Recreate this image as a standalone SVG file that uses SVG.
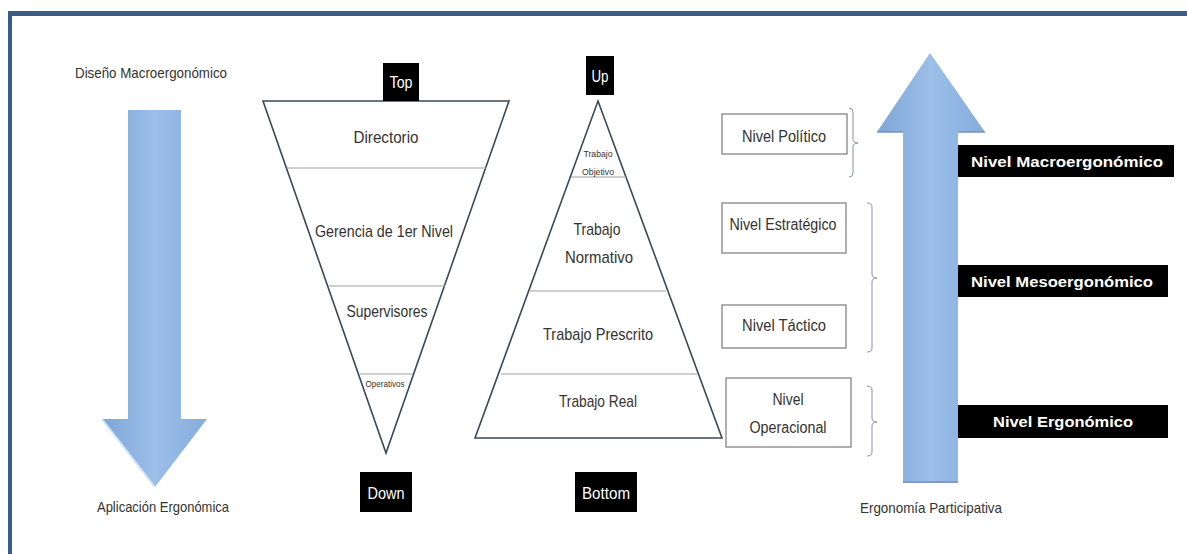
<svg xmlns="http://www.w3.org/2000/svg" width="1187" height="554" viewBox="0 0 1187 554">
<defs>
<linearGradient id="gv" x1="0" y1="0" x2="1" y2="0">
<stop offset="0" stop-color="#7EA5D7"/>
<stop offset="0.5" stop-color="#9CBFE9"/>
<stop offset="1" stop-color="#86ACDD"/>
</linearGradient>
<style>
.t{font-family:"Liberation Sans",Arial,sans-serif;fill:#333;text-anchor:middle}
.s{font-family:"Liberation Sans",Arial,sans-serif;fill:#333}
.w{font-family:"Liberation Sans",Arial,sans-serif;fill:#fff;text-anchor:middle}
.wb{font-family:"Liberation Sans",Arial,sans-serif;fill:#fff;font-weight:bold}
.tri{fill:#fff;stroke:#3B4858;stroke-width:1.6}
.div{stroke:#A0A0A0;stroke-width:1.2}
.box{fill:#fff;stroke:#7A7A7A;stroke-width:1.2}
.br{fill:none;stroke:#8A93A0;stroke-width:1}
.arr{fill:url(#gv)}
</style>
</defs>
<rect width="1187" height="554" fill="#fff"/>
<g id="frame">
<rect x="8" y="11" width="1179" height="5" fill="#3C5C87"/>
<rect x="8" y="11" width="4" height="543" fill="#3C5C87"/>
</g>
<g id="left-arrow">
<path class="arr" d="M128,110 H181 V419 H207 L155,487 L102,419 H128 Z"/>
<path d="M102,419 L155,487" stroke="#C9E2F7" stroke-width="2"/>
<text class="s" x="75" y="78" font-size="15" textLength="152" lengthAdjust="spacingAndGlyphs">Diseño Macroergonómico</text>
<text class="s" x="97" y="512" font-size="15" textLength="132" lengthAdjust="spacingAndGlyphs">Aplicación Ergonómica</text>
</g>
<g id="inverted-pyramid">
<polygon class="tri" points="263,101 509,101 386,453"/>
<line class="div" x1="287" y1="168" x2="486" y2="168"/>
<line class="div" x1="328" y1="286" x2="445" y2="286"/>
<line class="div" x1="360" y1="374" x2="413" y2="374"/>
<text class="t" x="386" y="143" font-size="17" textLength="65" lengthAdjust="spacingAndGlyphs">Directorio</text>
<text class="t" x="384" y="237" font-size="17" textLength="138" lengthAdjust="spacingAndGlyphs">Gerencia de 1er Nivel</text>
<text class="t" x="387" y="317" font-size="17" textLength="81" lengthAdjust="spacingAndGlyphs">Supervisores</text>
<text class="t" x="385" y="387" font-size="9" textLength="39" lengthAdjust="spacingAndGlyphs">Operativos</text>
</g>
<g id="top-label">
<rect x="383" y="63" width="36" height="38" fill="#000"/>
<text class="w" x="401" y="88" font-size="16" textLength="23" lengthAdjust="spacingAndGlyphs">Top</text>
</g>
<g id="down-label">
<rect x="360" y="472" width="52" height="40" fill="#000"/>
<text class="w" x="386" y="499" font-size="16" textLength="37" lengthAdjust="spacingAndGlyphs">Down</text>
</g>
<g id="pyramid">
<polygon class="tri" points="598,101 722,438 475,438"/>
<line class="div" x1="571" y1="177" x2="626" y2="177"/>
<line class="div" x1="530" y1="291" x2="666" y2="291"/>
<line class="div" x1="501" y1="374" x2="697" y2="374"/>
<text class="t" x="598" y="157" font-size="9" textLength="29" lengthAdjust="spacingAndGlyphs">Trabajo</text>
<text class="t" x="598" y="175" font-size="9" textLength="32" lengthAdjust="spacingAndGlyphs">Objetivo</text>
<text class="t" x="597" y="235" font-size="17" textLength="47" lengthAdjust="spacingAndGlyphs">Trabajo</text>
<text class="t" x="599" y="263" font-size="17" textLength="68" lengthAdjust="spacingAndGlyphs">Normativo</text>
<text class="t" x="598" y="340" font-size="17" textLength="110" lengthAdjust="spacingAndGlyphs">Trabajo Prescrito</text>
<text class="t" x="598" y="407" font-size="17" textLength="78" lengthAdjust="spacingAndGlyphs">Trabajo Real</text>
</g>
<g id="up-label">
<rect x="586" y="56" width="28" height="39" fill="#000"/>
<text class="w" x="600" y="82" font-size="16" textLength="17" lengthAdjust="spacingAndGlyphs">Up</text>
</g>
<g id="bottom-label">
<rect x="575" y="472" width="62" height="40" fill="#000"/>
<text class="w" x="606" y="499" font-size="16" textLength="48" lengthAdjust="spacingAndGlyphs">Bottom</text>
</g>
<g id="nivel-politico">
<rect class="box" x="722" y="114" width="125" height="40"/>
<text class="t" x="784" y="142" font-size="16" textLength="84" lengthAdjust="spacingAndGlyphs">Nivel Político</text>
</g>
<g id="nivel-estrategico">
<rect class="box" x="722" y="203" width="124" height="50"/>
<text class="t" x="783" y="230" font-size="16" textLength="107" lengthAdjust="spacingAndGlyphs">Nivel Estratégico</text>
</g>
<g id="nivel-tactico">
<rect class="box" x="722" y="305" width="124" height="43"/>
<text class="t" x="784" y="331" font-size="16" textLength="84" lengthAdjust="spacingAndGlyphs">Nivel Táctico</text>
</g>
<g id="nivel-operacional">
<rect class="box" x="726" y="378" width="125" height="69"/>
<text class="t" x="788" y="405" font-size="16" textLength="31" lengthAdjust="spacingAndGlyphs">Nivel</text>
<text class="t" x="788" y="433" font-size="16" textLength="77" lengthAdjust="spacingAndGlyphs">Operacional</text>
</g>
<g id="connectors">
<path class="br" d="M849,108 Q853,108 853,112 V139 Q853,143 858,143 Q853,143 853,147 V173 Q853,177 849,177"/>
<path class="br" d="M867,203 Q872,203 872,207 V274 Q872,278 877,278 Q872,278 872,282 V348 Q872,352 867,352"/>
<path class="br" d="M867,386 Q872,386 872,390 V418 Q872,422 877,422 Q872,422 872,426 V452 Q872,456 867,456"/>
</g>
<g id="right-arrow">
<path class="arr" d="M903,482 V132 H877 L930,53 L985,132 H958 V482 Z"/>
<path d="M877,132 H903" stroke="#6F93C2" stroke-width="1.5"/>
<path d="M958,132 H985" stroke="#6F93C2" stroke-width="1.5"/>
<path d="M903,482 H958" stroke="#7E9CC4" stroke-width="2"/>
<text class="s" x="860" y="513" font-size="15" textLength="142" lengthAdjust="spacingAndGlyphs">Ergonomía Participativa</text>
</g>
<g id="nivel-macro">
<rect x="958" y="145" width="216" height="32" fill="#000"/>
<text class="wb" x="971" y="167" font-size="15" textLength="192" lengthAdjust="spacingAndGlyphs">Nivel Macroergonómico</text>
</g>
<g id="nivel-meso">
<rect x="958" y="265" width="210" height="32" fill="#000"/>
<text class="wb" x="971" y="287" font-size="15" textLength="182" lengthAdjust="spacingAndGlyphs">Nivel Mesoergonómico</text>
</g>
<g id="nivel-ergo">
<rect x="958" y="405" width="210" height="33" fill="#000"/>
<text class="wb" x="993" y="427" font-size="15" textLength="140" lengthAdjust="spacingAndGlyphs">Nivel Ergonómico</text>
</g>
</svg>
